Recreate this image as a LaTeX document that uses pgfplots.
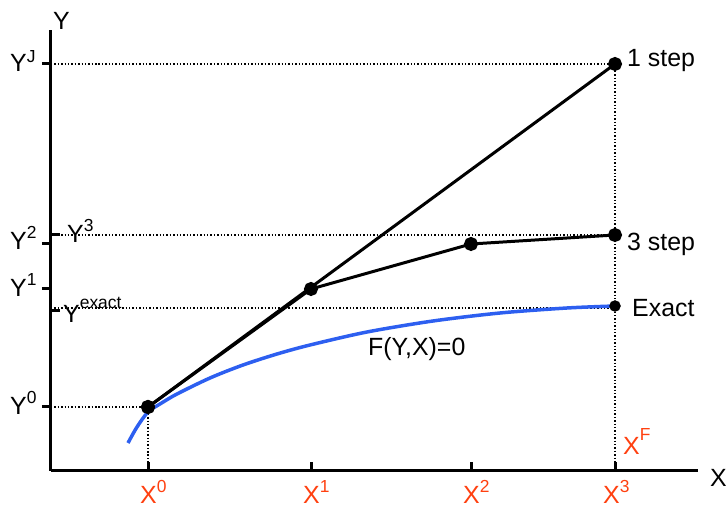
\documentclass[border=0pt]{standalone}
\usepackage{fontspec}
\setmainfont{Liberation Sans}
\usepackage{pgfplots}
\pgfplotsset{compat=1.18}
\definecolor{redx}{RGB}{255,64,16}
\definecolor{bluec}{RGB}{45,95,240}
\newcommand{\bigf}{\fontsize{25}{27}\selectfont}
\newcommand{\sups}[2][11bp]{\raisebox{#1}{\fontsize{17.5}{18}\selectfont #2}}
\begin{document}
\begin{tikzpicture}
\begin{axis}[
  x=1bp, y=1bp,
  xmin=51, xmax=698, ymin=38, ymax=479,
  axis lines=left,
  axis line style={-, line width=3bp},
  clip=false,
  xtick={148,311,471,615}, xticklabels={},
  ytick={445,265,220,102}, yticklabels={},
  extra y ticks={274,198}, extra y tick labels={},
  extra y tick style={tick align=inside},
  x tick style={line width=3bp, black},
  y tick style={line width=3bp, black},
  xtick align=inside, ytick align=outside,
  major tick length=9bp,
]
% dotted guide lines
\addplot[black, dotted, line width=1.4bp] coordinates {(51,445) (615,445)};
\addplot[black, dotted, line width=1.4bp] coordinates {(51,274) (615,274)};
\addplot[black, dotted, line width=1.4bp] coordinates {(51,201) (615,201)};
\addplot[black, dotted, line width=1.4bp] coordinates {(51,102) (148,102)};
\addplot[black, dotted, line width=1.4bp] coordinates {(148,102) (148,38)};
\addplot[black, dotted, line width=1.4bp] coordinates {(615,445) (615,38)};
% exact curve
\addplot[bluec, line width=3.5bp, smooth] coordinates {
 (128,66) (137,82) (148,97) (160,105) (177,115) (210,131) (243,144) (277,155)
 (310,164) (367,177) (433,188) (500,196) (567,201) (615,203)};
% 1 step
\addplot[black, line width=3bp, mark=*, mark size=5.5bp] coordinates {(148,102) (615,445)};
% 3 step
\addplot[black, line width=3bp, mark=*, mark size=5.5bp] coordinates {(148,102) (311,220) (471,265) (615,274)};
% exact point
\addplot[black, only marks, mark=*, mark size=5.5bp] coordinates {(615,203)};
% labels
\node[anchor=base west, inner sep=0] at (axis cs:53,479) {\bigf Y};
\node[anchor=base west, inner sep=0] at (axis cs:710,22) {\bigf X};
\node[anchor=base west, inner sep=0] at (axis cs:10,437) {\bigf Y\sups[9bp]{J}};
\node[anchor=base west, inner sep=0] at (axis cs:10,259) {\bigf Y\sups{2}};
\node[anchor=base west, inner sep=0] at (axis cs:67,266) {\bigf Y\sups{3}};
\node[anchor=base west, inner sep=0] at (axis cs:10,212) {\bigf Y\sups{1}};
\node[anchor=base west, inner sep=0] at (axis cs:63,186) {\bigf Y\sups[14bp]{exact}};
\node[anchor=base west, inner sep=0] at (axis cs:10,94) {\bigf Y\sups{0}};
\node[anchor=base west, inner sep=0, redx] at (axis cs:140,5) {\bigf X\sups{0}};
\node[anchor=base west, inner sep=0, redx] at (axis cs:303,5) {\bigf X\sups{1}};
\node[anchor=base west, inner sep=0, redx] at (axis cs:463,5) {\bigf X\sups{2}};
\node[anchor=base west, inner sep=0, redx] at (axis cs:603,5) {\bigf X\sups{3}};
\node[anchor=base west, inner sep=0, redx] at (axis cs:623,54) {\bigf X\sups[14bp]{F}};
\node[anchor=base west, inner sep=0] at (axis cs:627,442) {\bigf 1 step};
\node[anchor=base west, inner sep=0] at (axis cs:627,258) {\bigf 3 step};
\node[anchor=base west, inner sep=0] at (axis cs:632,192) {\bigf Exact};
\node[anchor=base west, inner sep=0] at (axis cs:368,153) {\bigf F(Y,X)=0};
\coordinate (bl) at (axis cs:0,0);
\coordinate (tr) at (axis cs:727,509);
\end{axis}
\pgfresetboundingbox
\path (bl) rectangle (tr);
\end{tikzpicture}
\end{document}
